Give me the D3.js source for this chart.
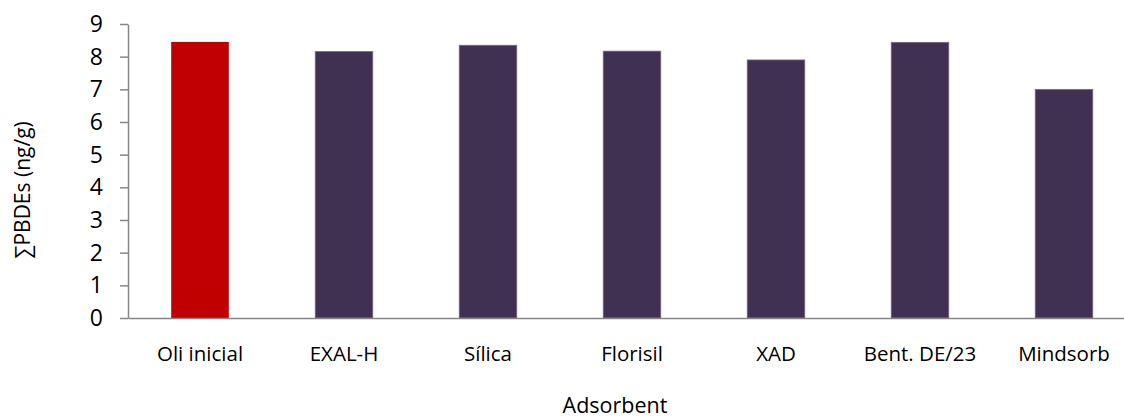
<!DOCTYPE html>
<html>
<head>
<meta charset="utf-8">
<script src="https://cdn.jsdelivr.net/npm/d3@7"></script>
<style>
  html, body { margin: 0; padding: 0; background: #fff; }
  svg { display: block; }
  text { font-family: "Open Sans", "Liberation Sans", sans-serif; fill: #000; }
</style>
</head>
<body>
<svg id="chart" width="1124" height="419"></svg>
<script>
// Total PBDE concentration in oil after treatment with each adsorbent
const categories = ["Oli inicial", "EXAL-H", "Sílica", "Florisil", "XAD", "Bent. DE/23", "Mindsorb"];
const values = [8.45, 8.16, 8.35, 8.17, 7.90, 8.44, 7.00];
const yTicks = [0, 1, 2, 3, 4, 5, 6, 7, 8, 9];
const xTitle = "Adsorbent";
const yTitle = "∑PBDEs (ng/g)";

const svg = d3.select("#chart");
const margin = { left: 128, top: 24, bottom: 101 };
const width = 1124, height = 419;

const x = d3.scaleBand()
  .domain(categories)
  .range([margin.left, margin.left + 144 * categories.length])
  .paddingInner(0.6)
  .paddingOuter(0.3);

const y = d3.scaleLinear()
  .domain([0, 9])
  .range([height - margin.bottom, margin.top]);

// Bars
svg.append("g")
  .selectAll("rect")
  .data(categories)
  .join("rect")
  .attr("x", d => x(d))
  .attr("y", (d, i) => y(values[i]))
  .attr("width", x.bandwidth())
  .attr("height", (d, i) => y(0) - y(values[i]))
  .attr("fill", (d, i) => i === 0 ? "#C00000" : "#403152")
  .attr("stroke", (d, i) => i === 0 ? "none" : "#7c6d8c")
  .attr("stroke-width", 0.75);

// Y axis
const yAxis = svg.append("g")
  .attr("transform", `translate(${margin.left},0)`)
  .call(d3.axisLeft(y).tickValues(yTicks).tickFormat(d3.format("d")).tickSize(8).tickSizeOuter(0).tickPadding(17));
yAxis.select(".domain").attr("stroke", "#868686").attr("stroke-width", 1.5);
yAxis.selectAll(".tick line").attr("stroke", "#868686").attr("stroke-width", 1.5);
yAxis.selectAll(".tick text").style("font-size", "23px").attr("fill", "#000");

// X axis
const xAxis = svg.append("g")
  .attr("transform", `translate(0,${y(0)})`)
  .call(d3.axisBottom(x).tickSize(0).tickPadding(28));
xAxis.select(".domain").attr("stroke", "#868686").attr("stroke-width", 1.5);
xAxis.selectAll(".tick text").style("font-size", "20.5px").attr("fill", "#000");

// Axis titles
svg.append("text")
  .attr("x", 615)
  .attr("y", 413)
  .attr("text-anchor", "middle")
  .style("font-size", "21.5px")
  .text(xTitle);

svg.append("text")
  .attr("transform", "translate(30,190) rotate(-90)")
  .attr("text-anchor", "middle")
  .style("font-size", "21px")
  .text(yTitle);
</script>
</body>
</html>
